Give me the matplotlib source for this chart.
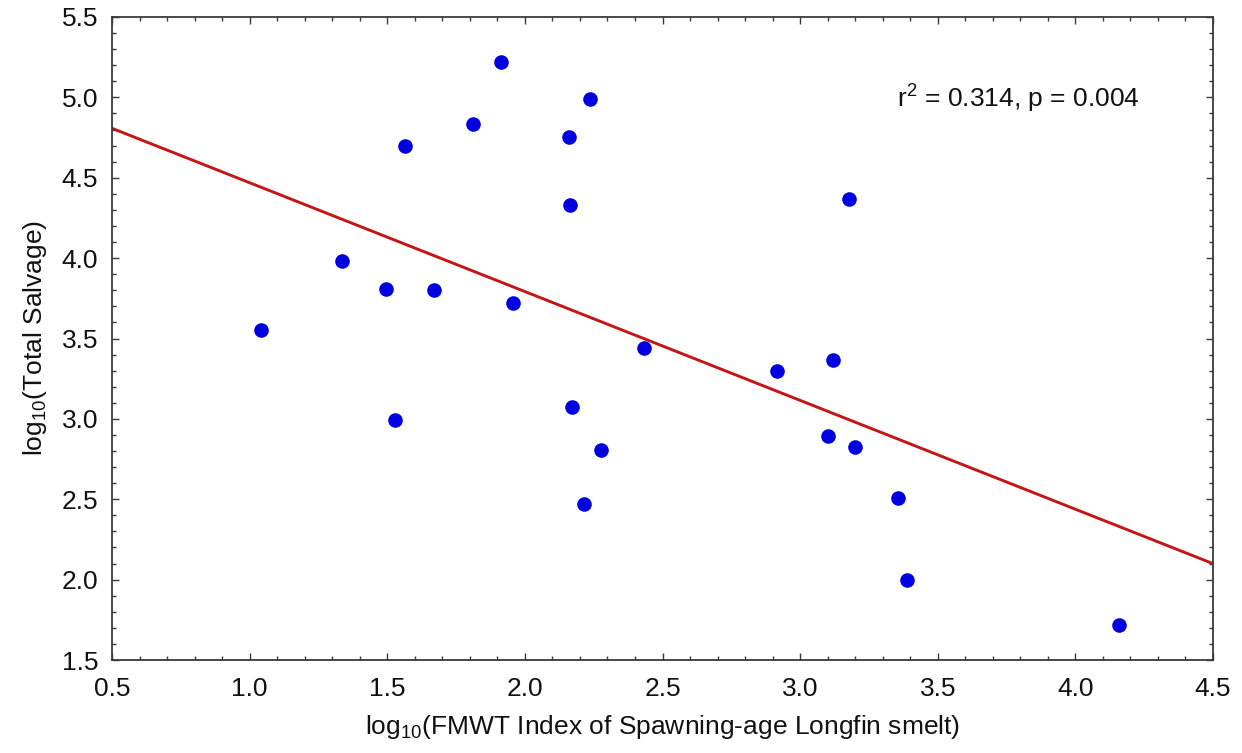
import numpy as np
import matplotlib
matplotlib.use("Agg")
import matplotlib.pyplot as plt
from matplotlib.ticker import MultipleLocator, FormatStrFormatter

plt.rcParams['font.family'] = ['Liberation Sans', 'DejaVu Sans']
plt.rcParams['mathtext.fontset'] = 'custom'
plt.rcParams['mathtext.rm'] = 'Liberation Sans'
plt.rcParams['mathtext.it'] = 'Liberation Sans:italic'

# log10 FMWT index vs log10 total salvage
fmwt = [1.043, 1.335, 1.496, 1.527, 1.565, 1.671, 1.812, 1.913, 1.956, 2.161, 2.165, 2.171,
        2.216, 2.237, 2.276, 2.433, 2.916, 3.102, 3.119, 3.178, 3.200, 3.355, 3.388, 4.158]
salvage = [3.552, 3.981, 3.811, 2.990, 4.698, 3.803, 4.832, 5.218, 3.719, 4.755, 4.330, 3.073,
           2.469, 4.990, 2.806, 3.438, 3.300, 2.896, 3.365, 4.369, 2.827, 2.506, 2.000, 1.720]

# regression line
fit_intercept = 5.146
fit_slope = -0.677
stats_text = r'r$^2$ = 0.314, p = 0.004'

axcol = '#3a3a3a'
txtcol = '#111111'

fig = plt.figure(figsize=(12.42, 7.53), dpi=100, facecolor='white')
ax = fig.add_axes([112/1242, 1 - 660/753, (1213-112)/1242, (660-17)/753])

xline = np.array([0.5, 4.5])
ax.plot(xline, fit_intercept + fit_slope * xline, color='#c41616', lw=2.1, zorder=2)
ax.plot(fmwt, salvage, 'o', color='#0000e0', markersize=10.5, markeredgewidth=0, zorder=3)

ax.set_xlim(0.5, 4.5)
ax.set_ylim(1.5, 5.5)
ax.xaxis.set_major_locator(MultipleLocator(0.5))
ax.xaxis.set_minor_locator(MultipleLocator(0.1))
ax.yaxis.set_major_locator(MultipleLocator(0.5))
ax.yaxis.set_minor_locator(MultipleLocator(0.1))
ax.xaxis.set_major_formatter(FormatStrFormatter('%.1f'))
ax.yaxis.set_major_formatter(FormatStrFormatter('%.1f'))

for s in ax.spines.values():
    s.set_color(axcol)
    s.set_linewidth(1.3)

ax.tick_params(which='both', direction='in', top=True, right=True, colors=axcol,
               labelcolor=txtcol, labelsize=19, width=1.0)
ax.tick_params(which='major', length=5)
ax.tick_params(which='minor', length=3)
ax.tick_params(axis='x', pad=12)
ax.tick_params(axis='y', pad=10)

ax.set_xlabel('log$_{10}$(FMWT Index of Spawning-age Longfin smelt)', fontsize=19,
              color=txtcol, labelpad=9)
ax.set_ylabel('log$_{10}$(Total Salvage)', fontsize=19, color=txtcol, labelpad=9)

ax.text(0.713, 0.872, stats_text, transform=ax.transAxes, fontsize=19, color=txtcol,
        ha='left', va='center')

plt.savefig('out.png', dpi=100, facecolor='white')
plt.close()
